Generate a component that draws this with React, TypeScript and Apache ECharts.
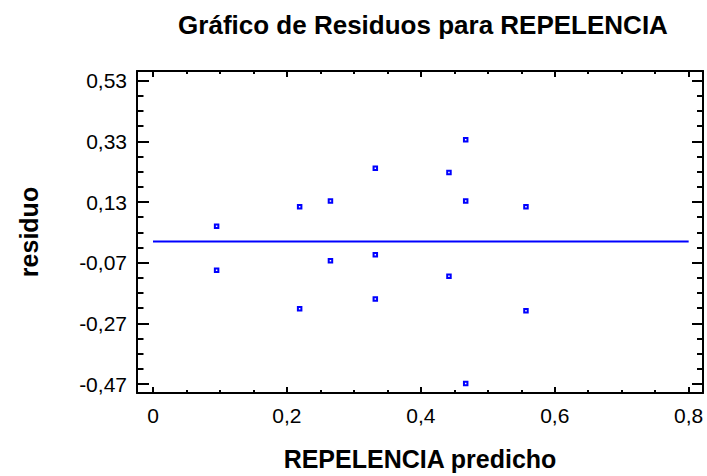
import React, { useEffect, useRef } from "react";
import * as echarts from "echarts";

const predicted = [0.095, 0.095, 0.219, 0.219, 0.265, 0.265, 0.332, 0.332, 0.332, 0.442, 0.442, 0.467, 0.467, 0.467, 0.557, 0.557];
const residuals = [0.05, -0.095, 0.114, -0.222, 0.133, -0.064, 0.241, -0.044, -0.19, 0.227, -0.115, 0.335, 0.133, -0.468, 0.114, -0.228];
const zeroLineX = [0, 0.8];
const zeroLineY = [0, 0];
const xMajorTicks = [0, 0.2, 0.4, 0.6, 0.8];
const xMinorTicks = [0.05, 0.1, 0.15, 0.25, 0.3, 0.35, 0.45, 0.5, 0.55, 0.65, 0.7, 0.75];
const yMajorTicks = [0.53, 0.33, 0.13, -0.07, -0.27, -0.47];
const yMinorTicks = [0.48, 0.43, 0.38, 0.28, 0.23, 0.18, 0.08, 0.03, -0.02, -0.12, -0.17, -0.22, -0.32, -0.37, -0.42];

const FONT = "'Liberation Sans', Arial, sans-serif";
const X_MIN = -0.0239;
const X_MAX = 0.8214;
const Y_MIN = -0.4994;
const Y_MAX = 0.5617;

function xAxisDef(position: "top" | "bottom", ticks: number[], len: number, labels: boolean, line: boolean, extra: any = {}) {
  return {
    type: "value",
    position,
    min: X_MIN,
    max: X_MAX,
    splitLine: { show: false },
    axisLine: { show: line, onZero: false, lineStyle: { color: "#000", width: 2 } },
    axisTick: { show: true, inside: true, length: len, customValues: ticks, lineStyle: { color: "#000", width: 2 } },
    axisLabel: labels
      ? {
          show: true,
          customValues: ticks,
          color: "#000",
          fontSize: 21,
          fontFamily: FONT,
          margin: 12,
          formatter: (v: number) => String(v).replace(".", ","),
        }
      : { show: false },
    ...extra,
  };
}

function yAxisDef(position: "left" | "right", ticks: number[], len: number, labels: boolean, line: boolean, extra: any = {}) {
  return {
    type: "value",
    position,
    min: Y_MIN,
    max: Y_MAX,
    splitLine: { show: false },
    axisLine: { show: line, onZero: false, lineStyle: { color: "#000", width: 2 } },
    axisTick: { show: true, inside: true, length: len, customValues: ticks, lineStyle: { color: "#000", width: 2 } },
    axisLabel: labels
      ? {
          show: true,
          customValues: ticks,
          color: "#000",
          fontSize: 21,
          fontFamily: FONT,
          margin: 10,
          formatter: (v: number) => v.toFixed(2).replace(".", ","),
        }
      : { show: false },
    ...extra,
  };
}

export default function App() {
  const ref = useRef<HTMLDivElement>(null);
  useEffect(() => {
    if (!ref.current) return;
    const chart = echarts.init(ref.current, null, { renderer: "svg" });
    const title = "Gráfico de Residuos para REPELENCIA";
    chart.setOption({
      animation: false,
      backgroundColor: "#fff",
      grid: { left: 137, top: 71, width: 566, height: 325, containLabel: false },
      graphic: [
        {
          type: "text",
          x: 423,
          y: 25,
          style: {
            text: title,
            font: `bold 26px ${FONT}`,
            fill: "#000",
            align: "center",
            verticalAlign: "middle",
            textAlign: "center",
            textVerticalAlign: "middle",
          },
        },
      ],
      xAxis: [
        xAxisDef("bottom", xMajorTicks, 6, true, true, {
          name: "REPELENCIA predicho",
          nameLocation: "middle",
          nameGap: 53,
          nameTextStyle: { color: "#000", fontSize: 25, fontWeight: "bold", fontFamily: FONT },
        }),
        xAxisDef("bottom", xMinorTicks, 3, false, false),
        xAxisDef("top", xMajorTicks, 6, false, true),
        xAxisDef("top", xMinorTicks, 3, false, false),
      ],
      yAxis: [
        yAxisDef("left", yMajorTicks, 12, true, true, {
          name: "residuo",
          nameLocation: "middle",
          nameGap: 96,
          nameTextStyle: { color: "#000", fontSize: 25, fontWeight: "bold", fontFamily: FONT },
        }),
        yAxisDef("left", yMinorTicks, 6.5, false, false),
        yAxisDef("right", yMajorTicks, 11, false, true),
        yAxisDef("right", yMinorTicks, 6, false, false),
      ],
      series: [
        {
          type: "line",
          xAxisIndex: 0,
          yAxisIndex: 0,
          data: zeroLineX.map((x, i) => [x, zeroLineY[i]]),
          symbol: "none",
          lineStyle: { color: "#0000ff", width: 2 },
          z: 2,
        },
        {
          type: "scatter",
          xAxisIndex: 0,
          yAxisIndex: 0,
          data: predicted.map((x, i) => [x, residuals[i]]),
          symbol: "rect",
          symbolSize: 3.5,
          itemStyle: { color: "#ffffff", borderColor: "#0000ff", borderWidth: 2, opacity: 1 },
          z: 3,
        },
      ],
    });
    return () => chart.dispose();
  }, []);
  return <div ref={ref} style={{ position: "fixed", left: 0, top: 0, width: 707, height: 476 }} />;
}
